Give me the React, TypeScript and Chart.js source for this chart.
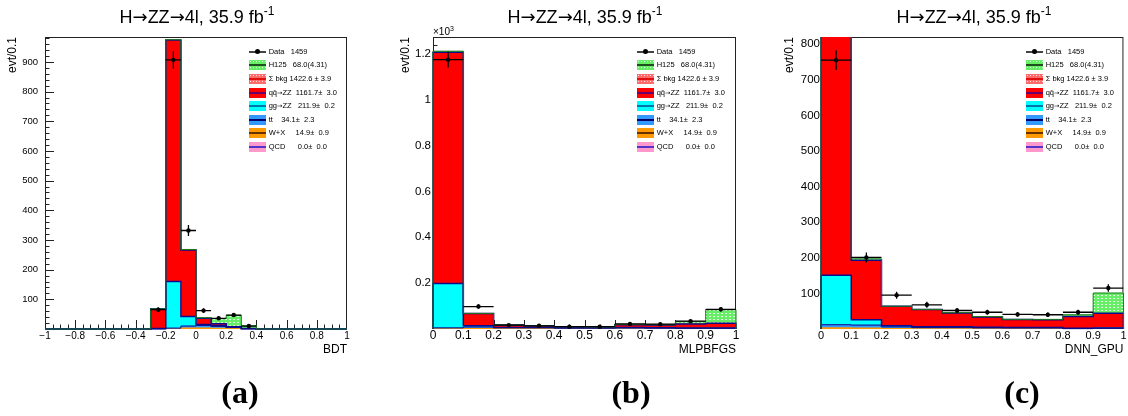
import React, { useEffect, useRef } from 'react';
import { Chart, registerables } from 'chart.js';

Chart.register(...registerables);

const FONT = "'Liberation Sans', Arial, Helvetica, sans-serif";
const ARROW_FONT = "'DejaVu Sans', 'Liberation Sans', sans-serif";

// ---------------- (a) BDT ----------------
const bdtCenters = [-0.95, -0.85, -0.75, -0.65, -0.55, -0.45, -0.35, -0.25, -0.15, -0.05, 0.05, 0.15, 0.25, 0.35, 0.45, 0.55, 0.65, 0.75, 0.85, 0.95];
const bdtData = [0, 0, 0, 0, 0, 0, 0, 65, 907, 332, 62, 36, 47, 10, 0, 0, 0, 0, 0, 0];
const bdtWX = [0, 0, 0, 0, 0, 0, 0, 0, 1, 4, 4, 3, 2, 0, 0, 0, 0, 0, 0, 0];
const bdtTT = [0, 0, 0, 0, 0, 0, 0, 0, 2, 6, 8, 6, 4, 1, 0, 0, 0, 0, 0, 0];
const bdtGG = [0, 0, 0, 0, 0, 0, 0, 2, 157, 32, 3, 2, 1, 0, 0, 0, 0, 0, 0, 0];
const bdtQQ = [0, 0, 0, 0, 0, 0, 0, 66, 814, 224, 21, 7, 1, 1, 0, 0, 0, 0, 0, 0];
const bdtH125 = [0, 0, 0, 0, 0, 0, 0, 0, 1, 2, 2, 17, 38, 9, 0, 0, 0, 0, 0, 0];
const bdtXTicks = [-1, -0.8, -0.6, -0.4, -0.2, 0, 0.2, 0.4, 0.6, 0.8, 1];
const bdtXLabels = ['\u22121', '\u22120.8', '\u22120.6', '\u22120.4', '\u22120.2', '0', '0.2', '0.4', '0.6', '0.8', '1'];
const bdtYTicks = [100, 200, 300, 400, 500, 600, 700, 800, 900];
const bdtYLabels = ['100', '200', '300', '400', '500', '600', '700', '800', '900'];

// ---------------- shared 0..1 axis ----------------
const unitCenters = [0.05, 0.15, 0.25, 0.35, 0.45, 0.55, 0.65, 0.75, 0.85, 0.95];
const unitXTicks = [0, 0.1, 0.2, 0.3, 0.4, 0.5, 0.6, 0.7, 0.8, 0.9, 1];
const unitXLabels = ['0', '0.1', '0.2', '0.3', '0.4', '0.5', '0.6', '0.7', '0.8', '0.9', '1'];

// ---------------- (b) MLPBFGS ----------------
const mlpData = [1175, 98, 17, 14, 10, 10, 22, 21, 34, 86];
const mlpWX = [2, 3, 2, 2, 1, 1, 1, 1, 1, 1];
const mlpTT = [3, 6, 4, 4, 3, 3, 4, 3, 2, 2];
const mlpGG = [194, 5, 1, 1, 1, 1, 1, 1, 1, 1];
const mlpQQ = [1008, 54, 10, 7, 5, 4, 13, 12, 18, 21];
const mlpH125 = [5, 0, 0, 0, 0, 0, 1, 2, 10, 59];
const mlpYTicks = [200, 400, 600, 800, 1000, 1200];
const mlpYLabels = ['0.2', '0.4', '0.6', '0.8', '1', '1.2'];

// ---------------- (c) DNN_GPU ----------------
const dnnData = [755, 201, 95, 68, 52, 47, 41, 40, 47, 115];
const dnnWX = [4, 3, 2, 1, 1, 1, 1, 1, 0, 1];
const dnnTT = [8, 8, 4, 3, 3, 2, 2, 2, 1, 1];
const dnnGG = [139, 15, 3, 2, 2, 2, 1, 1, 1, 1];
const dnnQQ = [734, 167, 55, 49, 39, 29, 23, 22, 33, 41];
const dnnH125 = [3, 4, 0, 0, 1, 1, 0, 1, 5, 57];
const dnnYTicks = [100, 200, 300, 400, 500, 600, 700, 800];
const dnnYLabels = ['100', '200', '300', '400', '500', '600', '700', '800'];

// ---------------- legend ----------------
const TITLE_MAIN = 'H\u2192ZZ\u21924l, 35.9 fb';
const TITLE_SUP = '-1';
const legendTexts = [
  'Data   1459',
  'H125   68.0(4.31)',
  '\u03A3 bkg 1422.6 \u00B1 3.9',
  'qq\u0304\u2192ZZ  1161.7\u00B1  3.0',
  'gg\u2192ZZ   211.9\u00B1  0.2',
  'tt    34.1\u00B1  2.3',
  'W+X     14.9\u00B1  0.9',
  'QCD      0.0\u00B1  0.0',
];
const GREEN_CSS = 'radial-gradient(circle, rgba(230,255,230,0.95) 0.6px, transparent 0.9px) 0 0/3px 3px, #66ee66';
const PINKRED_CSS = 'radial-gradient(circle, rgba(255,235,235,0.95) 0.6px, transparent 0.9px) 0 0/3px 3px, #ff6b6b';
const legendFills = ['', GREEN_CSS, PINKRED_CSS, '#ff0000', '#00ffff', '#3399ff', '#ff9900', '#ff99cc'];
const legendLines = ['#444', '#1f4f1f', '#e01010', '#6a006a', '#0077aa', '#000066', '#663300', '#5533cc'];

const NAVY = '#0c0c8a';

type PanelCfg = {
  left: number;
  centers: number[];
  xmin: number; xmax: number; ymax: number;
  data: number[]; wx: number[]; tt: number[]; gg: number[]; qq: number[]; h: number[];
  xTicks: number[]; xLabels: string[]; yTicks: number[]; yLabels: string[];
  xTitle: string;
  yWidth: number; padRight: number; yTitlePad: number; yTickPad: number; xTickPad: number;
  xFont: number; yFont: number;
  xMajor: number; xMinor: number; yMajor: number; yMinor: number;
  titleX: number; legendX: number; subX: number; sub: string; exp: boolean;
};

const panels: PanelCfg[] = [
  {
    left: 0, centers: bdtCenters, xmin: -1, xmax: 1, ymax: 984,
    data: bdtData, wx: bdtWX, tt: bdtTT, gg: bdtGG, qq: bdtQQ, h: bdtH125,
    xTicks: bdtXTicks, xLabels: bdtXLabels, yTicks: bdtYTicks, yLabels: bdtYLabels,
    xTitle: 'BDT', yWidth: 45, padRight: 29, yTitlePad: 6.5, yTickPad: 7, xTickPad: 2,
    xFont: 10, yFont: 9.5, xMajor: 0.2, xMinor: 0.05, yMajor: 100, yMinor: 20,
    titleX: 197, legendX: 249, subX: 240, sub: '(a)', exp: false,
  },
  {
    left: 376, centers: unitCenters, xmin: 0, xmax: 1, ymax: 1274,
    data: mlpData, wx: mlpWX, tt: mlpTT, gg: mlpGG, qq: mlpQQ, h: mlpH125,
    xTicks: unitXTicks, xLabels: unitXLabels, yTicks: mlpYTicks, yLabels: mlpYLabels,
    xTitle: 'MLPBFGS', yWidth: 57, padRight: 16, yTitlePad: 24, yTickPad: 2, xTickPad: 1,
    xFont: 12, yFont: 11.5, xMajor: 0.1, xMinor: 0.05, yMajor: 200, yMinor: 40,
    titleX: 209, legendX: 261, subX: 255, sub: '(b)', exp: true,
  },
  {
    left: 752, centers: unitCenters, xmin: 0, xmax: 1, ymax: 820,
    data: dnnData, wx: dnnWX, tt: dnnTT, gg: dnnGG, qq: dnnQQ, h: dnnH125,
    xTicks: unitXTicks, xLabels: unitXLabels, yTicks: dnnYTicks, yLabels: dnnYLabels,
    xTitle: 'DNN_GPU', yWidth: 69, padRight: 4, yTitlePad: 32, yTickPad: 1, xTickPad: 1.5,
    xFont: 11, yFont: 11.5, xMajor: 0.1, xMinor: 0.05, yMajor: 100, yMinor: 20,
    titleX: 222, legendX: 274, subX: 270, sub: '(c)', exp: false,
  },
];

const rootAxes = {
  id: 'rootAxes',
  beforeDatasetsDraw(chart: any) {
    const o = chart.options.plugins.rootAxes;
    const { ctx, chartArea: a } = chart;
    const xs = chart.scales.x;
    const ys = chart.scales.y;
    ctx.save();
    ctx.strokeStyle = '#222';
    ctx.lineWidth = 1;
    ctx.strokeRect(a.left + 0.5, a.top + 0.5, a.right - a.left - 1, a.bottom - a.top - 1);
    ctx.beginPath();
    for (let k = 1; ; k++) {
      const v = o.xmin + k * o.xMinor;
      if (v > o.xmax - 1e-9) break;
      const r = v / o.xMajor;
      const major = Math.abs(r - Math.round(r)) < 1e-6;
      const px = Math.round(xs.getPixelForValue(v)) + 0.5;
      ctx.moveTo(px, a.bottom);
      ctx.lineTo(px, a.bottom - (major ? 9 : 4.5));
    }
    for (let k = 1; ; k++) {
      const v = k * o.yMinor;
      if (v > o.ymax - 1e-9) break;
      const r = v / o.yMajor;
      const major = Math.abs(r - Math.round(r)) < 1e-6;
      const py = Math.round(ys.getPixelForValue(v)) + 0.5;
      ctx.moveTo(a.left, py);
      ctx.lineTo(a.left + (major ? 9 : 4.5), py);
    }
    ctx.stroke();
    ctx.restore();
  },
};

function makePattern(bg: string, dot: string) {
  const c = document.createElement('canvas');
  c.width = 4;
  c.height = 3;
  const g = c.getContext('2d')!;
  g.fillStyle = bg;
  g.fillRect(0, 0, 4, 3);
  g.fillStyle = dot;
  g.fillRect(1, 1, 2, 1);
  return g.createPattern(c, 'repeat')!;
}

function buildChart(canvas: HTMLCanvasElement, p: PanelCfg) {
  const n = p.centers.length;
  const w = p.centers[1] - p.centers[0];
  const sum = (...arrs: number[][]) => p.centers.map((_, i) => arrs.reduce((s, a) => s + a[i], 0));
  const cumTT = sum(p.wx, p.tt);
  const cumGG = sum(p.wx, p.tt, p.gg);
  const cumQQ = sum(p.wx, p.tt, p.gg, p.qq);
  const cumAll = sum(p.wx, p.tt, p.gg, p.qq, p.h);
  const step = (vals: number[]) => {
    const pts: any[] = [{ x: p.centers[0] - w / 2, y: 0 }];
    vals.forEach((v, i) => pts.push({ x: p.centers[i] - w / 2, y: v }));
    pts.push({ x: p.centers[n - 1] + w / 2, y: vals[n - 1] });
    pts.push({ x: p.centers[n - 1] + w / 2, y: 0 });
    return pts;
  };
  const bar = (label: string, vals: number[], color: any) => ({
    type: 'bar', label,
    data: p.centers.map((c, i) => ({ x: c, y: vals[i] })),
    backgroundColor: color, borderWidth: 0, stack: 'mc', yAxisID: 'y', order: 10,
    barPercentage: 1, categoryPercentage: 1,
  });
  const outline = (vals: number[], color: string, width: number) => ({
    type: 'line', data: step(vals), borderColor: color, borderWidth: width, stepped: true,
    pointRadius: 0, fill: false, yAxisID: 'y2', order: 5,
    clip: { left: 1, right: 1, top: 0, bottom: 2 },
  });
  const errPts: any[] = [];
  p.centers.forEach((c, i) => {
    const d = p.data[i];
    if (d > 0) {
      errPts.push({ x: c - w / 2, y: d }, { x: c + w / 2, y: d }, { x: c, y: null });
      errPts.push({ x: c, y: d - Math.sqrt(d) }, { x: c, y: d + Math.sqrt(d) }, { x: c, y: null });
    }
  });
  const green = makePattern('#66ee66', '#e6ffe6');

  const datasets: any[] = [
    {
      type: 'line', data: p.centers.map((c, i) => ({ x: c, y: p.data[i] > 0 ? p.data[i] : null })),
      showLine: false, pointRadius: 2.2, pointBackgroundColor: '#000', pointBorderWidth: 0,
      yAxisID: 'y2', order: 0,
    },
    {
      type: 'line', data: errPts, borderColor: '#000', borderWidth: 1.3, pointRadius: 0,
      spanGaps: false, fill: false, yAxisID: 'y2', order: 1,
    },
    outline(cumAll, '#1d7a1d', 1),
    outline(cumQQ, NAVY, 1.5),
    outline(cumGG, NAVY, 1.5),
    outline(cumTT, NAVY, 1),
    bar('W+X', p.wx, '#ff9900'),
    bar('tt', p.tt, '#3399ff'),
    bar('gg', p.gg, '#00ffff'),
    bar('qq', p.qq, '#ff0000'),
    bar('H125', p.h, green),
  ];

  return new Chart(canvas, {
    type: 'bar',
    data: { datasets },
    plugins: [rootAxes],
    options: {
      responsive: false,
      animation: false,
      events: [],
      layout: { padding: { left: 0, top: 37, right: p.padRight, bottom: 60 } },
      plugins: {
        legend: { display: false },
        tooltip: { enabled: false },
        title: { display: false },
        rootAxes: { xmin: p.xmin, xmax: p.xmax, ymax: p.ymax, xMajor: p.xMajor, xMinor: p.xMinor, yMajor: p.yMajor, yMinor: p.yMinor },
      } as any,
      scales: {
        x: {
          type: 'linear', min: p.xmin, max: p.xmax, offset: false,
          grid: { display: false, drawTicks: false, offset: false },
          border: { display: false },
          afterBuildTicks: (s: any) => { s.ticks = p.xTicks.map((v) => ({ value: v })); },
          afterFit: (s: any) => { s.height = 27; },
          ticks: {
            autoSkip: false, maxRotation: 0, minRotation: 0, padding: p.xTickPad, color: '#000',
            font: { family: FONT, size: p.xFont, lineHeight: 1 },
            callback: (_v: any, i: number) => p.xLabels[i],
          },
          title: {
            display: true, text: p.xTitle, align: 'end', color: '#000',
            font: { family: FONT, size: 12, lineHeight: 1 }, padding: { top: 0, bottom: 0 },
          },
        },
        y: {
          type: 'linear', stacked: true, min: 0, max: p.ymax,
          grid: { display: false, drawTicks: false },
          border: { display: false },
          afterBuildTicks: (s: any) => { s.ticks = p.yTicks.map((v) => ({ value: v })); },
          afterFit: (s: any) => { s.width = p.yWidth; },
          ticks: {
            autoSkip: false, padding: p.yTickPad, color: '#000',
            font: { family: FONT, size: p.yFont, lineHeight: 1 },
            callback: (_v: any, i: number) => p.yLabels[i],
          },
          title: {
            display: true, text: 'evt/0.1', align: 'end', color: '#000',
            font: { family: FONT, size: 12, lineHeight: 1 }, padding: { top: p.yTitlePad, bottom: 0 },
          },
        },
        y2: { type: 'linear', display: false, min: 0, max: p.ymax, stacked: false },
      } as any,
    },
  } as any);
}

function withArrows(t: string, size: string) {
  const parts = t.split('\u2192');
  const out: any[] = [];
  parts.forEach((s, i) => {
    out.push(<span key={'s' + i}>{s}</span>);
    if (i < parts.length - 1) out.push(<span key={'a' + i} style={{ fontSize: size, fontFamily: ARROW_FONT }}>{'\u2192'}</span>);
  });
  return out;
}

function Legend({ x }: { x: number }) {
  return (
    <>
      {legendTexts.map((t, i) => {
        const cy = 51.7 + i * 13.6;
        return (
          <React.Fragment key={i}>
            {i === 0 ? (
              <div style={{ position: 'absolute', left: x, top: cy - 5, width: 17, height: 10 }}>
                <div style={{ position: 'absolute', left: 0, top: 4, width: 17, height: 2, background: legendLines[0] }} />
                <div style={{ position: 'absolute', left: 6, top: 2.5, width: 5, height: 5, borderRadius: '50%', background: '#000' }} />
              </div>
            ) : (
              <div style={{ position: 'absolute', left: x, top: cy - 5, width: 17, height: 10, background: legendFills[i] }}>
                <div style={{ position: 'absolute', left: 0, top: 4, width: 17, height: 2, background: legendLines[i] }} />
              </div>
            )}
            <div style={{ position: 'absolute', left: x + 19.7, top: cy - 5, height: 10, lineHeight: '10px', fontSize: '7.5px', fontFamily: FONT, whiteSpace: 'pre', color: '#000' }}>
              {withArrows(t, '6.5px')}
            </div>
          </React.Fragment>
        );
      })}
    </>
  );
}

function Panel({ p }: { p: PanelCfg }) {
  const ref = useRef<HTMLCanvasElement>(null);
  useEffect(() => {
    const ch = buildChart(ref.current!, p);
    return () => ch.destroy();
  }, []);
  return (
    <div style={{ position: 'absolute', left: p.left, top: 0, width: 376, height: 416 }}>
      <canvas ref={ref} width={376} height={416} style={{ position: 'absolute', left: 0, top: 0, width: 376, height: 416 }} />
      <div style={{ position: 'absolute', left: p.titleX - 120, top: 7.5, width: 240, textAlign: 'center', fontFamily: FONT, fontSize: '18px', lineHeight: '18px', whiteSpace: 'nowrap', color: '#000' }}>
        {withArrows(TITLE_MAIN, '18px')}
        <span style={{ fontSize: '12px', position: 'relative', top: -8, lineHeight: '12px' }}>{TITLE_SUP}</span>
      </div>
      <Legend x={p.legendX} />
      {p.exp && (
        <div style={{ position: 'absolute', left: 57, top: 26, fontFamily: FONT, fontSize: '10px', lineHeight: '12px', whiteSpace: 'nowrap', color: '#000' }}>
          {'\u00D710'}<span style={{ fontSize: '7px', position: 'relative', top: -4 }}>3</span>
        </div>
      )}
      <div style={{ position: 'absolute', left: p.subX - 50, top: 375, width: 100, textAlign: 'center', fontFamily: "'Liberation Serif', 'DejaVu Serif', serif", fontWeight: 'bold', fontSize: '32px', lineHeight: '34px', color: '#000' }}>
        {p.sub}
      </div>
    </div>
  );
}

export default function App() {
  return (
    <div style={{ position: 'absolute', left: 0, top: 0, width: 1128, height: 416, background: '#fff', overflow: 'hidden' }}>
      {panels.map((p, i) => <Panel key={i} p={p} />)}
    </div>
  );
}
